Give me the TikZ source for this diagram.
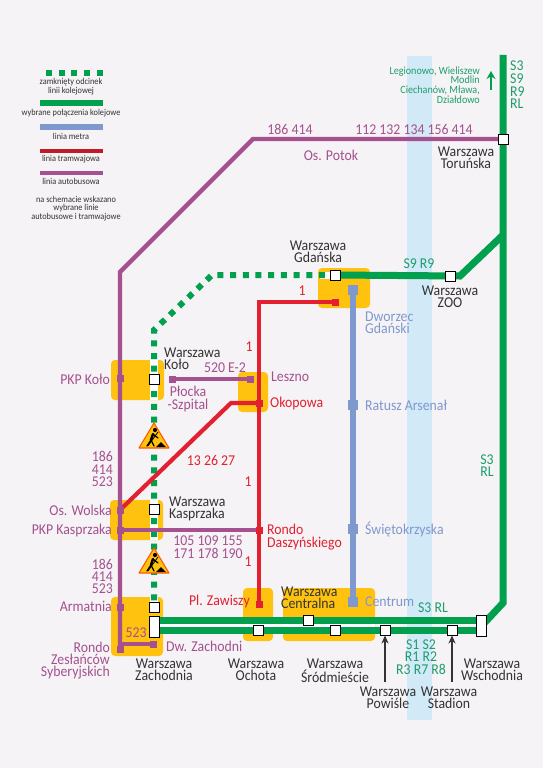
\documentclass[tikz,border=0pt]{standalone}
\usepackage{fontspec}
\setmainfont[FakeStretch=0.92]{Carlito}
\usetikzlibrary{arrows.meta}
\pgfdeclarelayer{bg}
\pgfsetlayers{bg,main}
\definecolor{pagebg}{HTML}{F5F3F5}
\definecolor{bandc}{HTML}{D2E9F8}
\definecolor{orangec}{HTML}{FFC20E}
\definecolor{railc}{HTML}{00A04F}
\definecolor{metroc}{HTML}{7F98CE}
\definecolor{tramc}{HTML}{E2202F}
\definecolor{busc}{HTML}{A5518F}
\definecolor{railtxt}{HTML}{1E9E6C}
\definecolor{darktxt}{HTML}{333333}
\tikzset{
  x=1pt,y=-1pt,
  lab/.style={inner sep=0pt,align=center,font=\fontsize{15}{12.4}\selectfont},
  darkl/.style={lab,text=darktxt},
  busl/.style={lab,text=busc},
  traml/.style={lab,text=tramc},
  metrol/.style={lab,text=metroc},
  raill/.style={lab,text=railtxt},
  legl/.style={inner sep=0pt,align=center,text=darktxt,font=\fontsize{9}{7.6}\selectfont},
  station/.style={draw=black,fill=white,line width=1pt,minimum width=10pt,minimum height=10pt,inner sep=0pt},
  tallst/.style={station,minimum height=21pt},
  busstop/.style={fill=busc,minimum size=7pt,inner sep=0pt},
  tramstop/.style={fill=tramc,minimum size=7pt,inner sep=0pt},
  metrostop/.style={fill=metroc,minimum size=10pt,inner sep=0pt},
  hub/.style={fill=orangec,rounded corners=4pt,draw=none},
  railline/.style={draw=railc,line width=7pt},
  closedline/.style={draw=railc,line width=6pt,dash pattern=on 6pt off 6.7pt,dash phase=6pt},
  corestrip/.style={draw=white,line width=8pt},
  metroline/.style={draw=metroc,line width=6.5pt},
  tramline/.style={draw=tramc,line width=4.2pt},
  busline/.style={draw=busc,line width=4.4pt},
  upcue/.style={draw=darktxt,line width=2pt,-{Stealth[length=8pt,width=7pt]}},
  worksign/.pic={
    \fill[fill=orangec,draw=orange!70!red,line width=1.1pt,line join=round] (0,-13)--(15,12)--(-15,12)--cycle;
    \fill[black] (1,-6) circle (2.1);
    \draw[black,line width=2.4pt,line cap=round] (-1,-2)--(-3,4);
    \draw[black,line width=1.3pt,line cap=round] (-3,4)--(-7,10) (-3,4)--(0,10) (-1,-2)--(4,2);
    \draw[black,line width=.8pt] (4,-4)--(-6,10);
    \fill[black] (2,11)--(7,6)--(12,11)--cycle;
  }
}
\begin{document}
\begin{tikzpicture}
\useasboundingbox (0,0) rectangle (543,768);
\begin{pgfonlayer}{bg}
\fill[pagebg] (0,0) rectangle (543,768);
\fill[bandc] (407,56) rectangle (432,720);
\fill[hub] (111,360) rectangle (164,400);
\fill[hub] (238,372) rectangle (268,412);
\fill[hub] (110,500) rectangle (163,540);
\fill[hub] (111,597) rectangle (163,656);
\fill[hub] (243,588) rectangle (273,641);
\fill[hub] (283,588) rectangle (375,641);
\fill[hub] (318,268) rectangle (370,308);
\end{pgfonlayer}
% stations
\node[station] (kolo) at (154,379) {};
\node[station] (kasp) at (154,509) {};
\node[station] (zachS) at (154,607) {};
\node[tallst] (zachL) at (154,626.5) {};
\node[station] (ochota) at (258,630) {};
\node[station] (centr) at (308,620) {};
\node[station] (srod) at (335,630) {};
\node[station] (powisle) at (385,630) {};
\node[station] (stadion) at (452,630) {};
\node[tallst] (wsch) at (481.5,626) {};
\node[station] (gdanska) at (335,275) {};
\node[station] (zoo) at (450,276) {};
\node[station] (torun) at (503,139) {};
\coordinate (railtop) at (503,55);
\coordinate (railbend) at (503,603);
\coordinate (zoojoin) at (503,235);
\coordinate (zoobend) at (460,276);
\coordinate (closedA) at (154,330);
\coordinate (closedB) at (212,275);
% metro
\node[metrostop,minimum size=10.5pt] (mgdan) at (353,290) {};
\node[metrostop] (mratusz) at (353,405) {};
\node[metrostop] (mswiet) at (353,529) {};
\node[metrostop,minimum size=10.5pt] (mcentr) at (353,602) {};
% tram
\node[tramstop] (tgdan) at (335,302) {};
\coordinate (tcorner) at (259,302);
\node[tramstop] (tokop) at (259,403) {};
\node[tramstop] (trondo) at (259,530) {};
\node[tramstop] (tzaw) at (259,604) {};
\coordinate (tbend) at (231,403);
% bus
\node[busstop] (bkolo) at (120,378) {};
\node[busstop] (bwolska) at (120,510) {};
\node[busstop] (bkasp) at (120,530) {};
\node[busstop] (barm) at (120,607) {};
\node[busstop] (brondo) at (120,649) {};
\node[busstop] (bzach) at (153,644) {};
\coordinate (bjoin) at (120,644);
\node[busstop] (bplock) at (172,379) {};
\node[busstop] (bleszno) at (250,379) {};
\coordinate (bcornerA) at (120,272);
\coordinate (bcornerB) at (253,139);
\begin{pgfonlayer}{bg}
\draw[corestrip] (kolo.center) ++(0,-19) -- ++(0,40);
\draw[corestrip] (kasp.center) ++(0,-9) -- ++(0,40);
\draw[corestrip] (zachS.center) ++(0,-10) -- (zachS.center);
\draw[corestrip,line width=7pt] (320,275) -- (gdanska.center);
\draw[draw=white,line width=5pt] (zachL.center) -- (375,625.5);
\draw[closedline] (zachS.center) -- (closedA) -- (closedB) -- (gdanska.center);
\draw[railline] (railtop) -- (railbend) -- (wsch.center);
\draw[railline] (155,620) -- (wsch.center |- 0,620);
\draw[railline] (155,630) -- (wsch.center |- 0,630);
\draw[railline] (gdanska.center) -- (zoobend) -- (zoojoin);
\draw[metroline] (mgdan.center) -- (mcentr.center);
\draw[tramline] (tgdan.center) -- (tcorner) -- (tzaw.center);
\draw[tramline] (bwolska.center) -- (tbend) -- (tokop.center);
\draw[busline] (brondo.center) -- (bcornerA) -- (bcornerB) -- (torun.center);
\draw[busline] (bjoin) -- (bzach.center);
\draw[busline] (bkasp.center) -- (trondo.center);
\draw[busline] (bplock.center) -- (bleszno.center);
\end{pgfonlayer}
\coordinate (powtail) at (385,682);
\coordinate (stadtail) at (452,682);
\draw[upcue] (powtail) -- (powisle.south);
\draw[upcue] (stadtail) -- (stadion.south);
\coordinate (gup1) at (491,90);
\coordinate (gup2) at (491,71);
\draw[draw=railc,line width=2pt,-{Stealth[length=8pt,width=9pt]}] (gup1) -- (gup2);
\pic at (154,436) {worksign};
\pic at (154,561) {worksign};
% legend
\coordinate (lgA) at (46,73); \coordinate (lgB) at (104,73);
\coordinate (lrA) at (40,103); \coordinate (lrB) at (103,103);
\coordinate (lmA) at (40,127); \coordinate (lmB) at (103,127);
\coordinate (ltA) at (40,151); \coordinate (ltB) at (103,151);
\coordinate (lbA) at (40,173); \coordinate (lbB) at (103,173);
\draw[draw=railc,line width=6pt,dash pattern=on 6pt off 6.7pt] (lgA) -- (lgB);
\draw[draw=railc,line width=6pt] (lrA) -- (lrB);
\draw[draw=metroc,line width=6pt] (lmA) -- (lmB);
\draw[draw=tramc!85!black,line width=4pt] (ltA) -- (ltB);
\draw[draw=busc,line width=4pt] (lbA) -- (lbB);
\node[legl] (l1) at (71,86.5) {zamknięty odcinek\\linii kolejowej};
\node[legl] (l2) at (71,113.5) {wybrane połączenia kolejowe};
\node[legl] (l3) at (71,136) {linia metra};
\node[legl] (l4) at (71,159) {linia tramwajowa};
\node[legl] (l5) at (71,181) {linia autobusowa};
\node[legl] (l6) at (76,208.5) {na schemacie wskazano\\wybrane linie\\autobusowe i tramwajowe};
% bus labels
\node[busl] (t1) at (290,129) {186 414};
\node[busl] (t2) at (414,129) {112 132 134 156 414};
\node[busl] (t3) at (331,155) {Os. Potok};
\node[busl] (t4) at (225,368) {520 E-2};
\node[busl,anchor=west] (t5) at (271,377) {Leszno};
\node[busl] (t6) at (188,399) {Płocka\\-Szpital};
\node[busl,anchor=east] (t7) at (110,379) {PKP Koło};
\node[busl,anchor=east,align=right] (t8) at (113,469) {186\\414\\523};
\node[busl,anchor=east] (t9) at (112,510) {Os. Wolska};
\node[busl,anchor=east] (t10) at (112,530) {PKP Kasprzaka};
\node[busl] (t11) at (208,547) {105 109 155\\171 178 190};
\node[busl,anchor=east,align=right] (t12) at (113,576.5) {186\\414\\523};
\node[busl,anchor=east] (t13) at (112,606) {Armatnia};
\node[busl] (t14) at (136,633) {523};
\node[busl,anchor=east,align=right] (t15) at (110,660.5) {Rondo\\Zesłańców\\Syberyjskich};
\node[busl,anchor=west] (t16) at (166,646) {Dw. Zachodni};
% tram labels
\node[traml] (r1) at (302,291) {1};
\node[traml] (r2) at (249,347) {1};
\node[traml,anchor=west] (r3) at (270,403) {Okopowa};
\node[traml] (r4) at (211,460) {13 26 27};
\node[traml] (r5) at (248,482) {1};
\node[traml,anchor=west,align=left] (r6) at (267,537) {Rondo\\Daszyńskiego};
\node[traml] (r7) at (248,562) {1};
\node[traml,anchor=east] (r8) at (250,601) {Pl. Zawiszy};
% metro labels
\node[metrol,anchor=west,align=left] (m1) at (365,323) {Dworzec\\Gdański};
\node[metrol,anchor=west] (m2) at (365,405) {Ratusz Arsenał};
\node[metrol,anchor=west] (m3) at (365,529) {Świętokrzyska};
\node[metrol,anchor=west] (m4) at (365,602) {Centrum};
% rail labels
\node[raill,anchor=east,align=right,font=\fontsize{11}{9.6}\selectfont] (g1) at (480,85) {Legionowo, Wieliszew\\Modlin\\Ciechanów, Mława,\\Działdowo};
\node[raill,anchor=west,align=left,font=\fontsize{15}{12.6}\selectfont] (g2) at (510,85) {S3\\S9\\R9\\RL};
\node[raill] (g3) at (487,465.5) {S3\\RL};
\node[raill] (g4) at (419,264) {S9 R9};
\node[raill] (g5) at (433,608) {S3 RL};
\node[raill] (g6) at (421,657) {S1 S2\\R1 R2\\R3 R7 R8};
% station labels
\node[darkl] (s1) at (466,158) {Warszawa\\Toruńska};
\node[darkl] (s2) at (318,252) {Warszawa\\Gdańska};
\node[darkl] (s3) at (450,297) {Warszawa\\ZOO};
\node[darkl,anchor=west,align=left] (s4) at (164,359) {Warszawa\\Koło};
\node[darkl,anchor=west,align=left] (s5) at (169,509) {Warszawa\\Kasprzaka};
\node[darkl,anchor=west,align=left] (s6) at (281,598) {Warszawa\\Centralna};
\node[darkl] (s7) at (164,670) {Warszawa\\Zachodnia};
\node[darkl] (s8) at (256,669.5) {Warszawa\\Ochota};
\node[darkl] (s9) at (335,671) {Warszawa\\Śródmieście};
\node[darkl] (s10) at (388,697.5) {Warszawa\\Powiśle};
\node[darkl] (s11) at (449,697.5) {Warszawa\\Stadion};
\node[darkl] (s12) at (492,670) {Warszawa\\Wschodnia};
\end{tikzpicture}
\end{document}
